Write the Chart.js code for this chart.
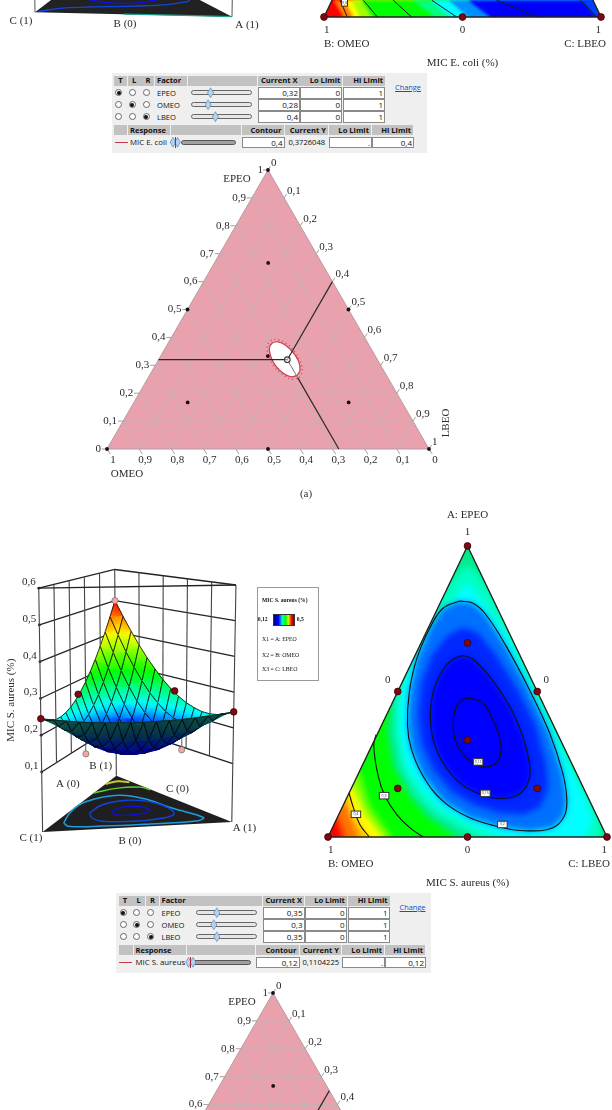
<!DOCTYPE html>
<html>
<head>
<meta charset="utf-8">
<script src="https://cdn.jsdelivr.net/npm/chart.js@4/dist/chart.umd.min.js"></script>
<style>
html, body { margin: 0; padding: 0; background: #fff; overflow: hidden; }
#page { position: relative; width: 612px; height: 1110px; overflow: hidden; background: #fff; filter: blur(.35px); }
#page canvas { position: absolute; }
#page div { position: absolute; box-sizing: border-box; white-space: nowrap; }
</style>
</head>
<body>
<div id="page"></div>
<script>
// ---- data ----
const tickLabels = ['0', '0,1', '0,2', '0,3', '0,4', '0,5', '0,6', '0,7', '0,8', '0,9', '1'];
const tickValues = [0, .1, .2, .3, .4, .5, .6, .7, .8, .9, 1];
const zTicks = [.1, .2, .3, .4, .5, .6];
const zTickLabels = ['0,1', '0,2', '0,3', '0,4', '0,5', '0,6'];
const factors = ['EPEO', 'OMEO', 'LBEO'];

// design points as [EPEO, LBEO]
const designPoints = [[1, 0], [.5, 0], [.5, .5], [.667, .167], [.333, .333], [.167, .167], [.167, .667], [0, 0], [0, .5], [0, 1]];

// E. coli profiler
const ecoliCurrentX = ['0,32', '0,28', '0,4'];
const ecoliCurrent = [.32, .28, .4];
const ecoliResponse = ['MIC E. coli', '0,4', '0,3726048', '.', '0,4'];
const ecoliHole = [[.264, .459], [.283, .458], [.314, .438], [.345, .406], [.372, .369], [.384, .339], [.379, .323], [.360, .324], [.329, .345], [.297, .376], [.271, .413], [.259, .442]];
const ecoliLimit = [[.256, .469], [.278, .467], [.313, .4445], [.348, .409], [.379, .3665], [.393, .3315], [.387, .3135], [.365, .3145], [.330, .338], [.293, .3745], [.264, .417], [.250, .45]];

// S. aureus profiler
const aureusCurrentX = ['0,35', '0,3', '0,35'];
const aureusCurrent = [.35, .3, .35];
const aureusResponse = ['MIC S. aureus', '0,12', '0,1104225', '.', '0,12'];

// S. aureus contours as [position along base, EPEO]
const aureus020 = [[.472, .811], [.520, .803], [.567, .763], [.639, .655], [.722, .506], [.794, .358], [.841, .221], [.856, .129], [.847, .072], [.806, .032], [.722, .021], [.627, .032], [.508, .066], [.412, .123], [.341, .209], [.299, .301], [.285, .381], [.291, .495], [.317, .609], [.365, .718], [.412, .786], [.472, .811]];
const aureus015 = [[.484, .624], [.520, .611], [.579, .552], [.651, .449], [.698, .346], [.722, .255], [.722, .203], [.698, .158], [.651, .135], [.591, .135], [.532, .152], [.472, .186], [.412, .255], [.377, .335], [.367, .426], [.379, .506], [.412, .575], [.448, .611], [.484, .624]];
const aureus012 = [[.508, .478], [.555, .461], [.591, .403], [.617, .335], [.617, .278], [.591, .246], [.544, .243], [.496, .272], [.460, .323], [.448, .381], [.456, .438], [.478, .469], [.508, .478]];
const aureus030 = [[.172, .352], [.164, .312], [.180, .209], [.204, .141], [.246, .078], [.293, .032], [.341, 0]];
const aureus040 = [[.075, .152], [.091, .101], [.114, .043], [.148, 0]];
const aureusLabels = ['0,12', '0,15', '0,2', '0,3', '0,4'];
const aureusLabelAt = [[.538, .258], [.564, .150], [.625, .043], [.201, .142], [.100, .078]];

// S. aureus colour bands, outermost first, as [position along base, EPEO]
const bandRed = [[-.1, -.1], [1.1, -.1], [.5, 1.1]];
const band047 = [[.031, .066], [.055, 0], [.055, -.042], [1.07, -.042], [.65, 1.05], [-.02, 1.05], [0, .08]];
const band043 = [[.061, .118], [.108, 0], [.108, -.042], [1.07, -.042], [.65, 1.05], [0, 1.05], [.02, .13]];
const band040 = [[.075, .146], [.091, .078], [.148, 0], [.148, -.042], [1.07, -.042], [.65, 1.05], [.02, 1.05], [.04, .16]];
const band036 = [[.091, .169], [.132, .083], [.198, 0], [.198, -.042], [1.07, -.042], [.65, 1.05], [.05, 1.05], [.06, .19]];
const band032 = [[.114, .215], [.150, .106], [.228, 0], [.228, -.042], [1.07, -.042], [.65, 1.05], [.05, 1.05], [.09, .24]];
const band026 = [[.174, .518], [.222, .449], [.212, .358], [.234, .243], [.293, .141], [.353, .072], [.460, 0], [.472, -.042], [1.068, -.042], [.651, 1.043], [.148, 1.043]];
const band024 = [[.27, .60], [.33, .70], [.40, .82], [.46, .90], [.5, .935], [.54, .90], [.60, .82], [.67, .69], [.78, .47], [.89, .24], [.95, .12], [.98, .05], [.97, -.03], [.60, -.03], [.49, .02], [.38, .08], [.32, .14], [.26, .24], [.24, .36], [.24, .47]];
const band022 = [[.293, .586], [.35, .665], [.42, .77], [.47, .84], [.5, .875], [.53, .84], [.575, .78], [.645, .689], [.75, .472], [.863, .243], [.925, .129], [.949, .061], [.931, .015], [.889, -.031], [.675, -.019], [.526, .038], [.406, .095], [.347, .152], [.281, .243], [.257, .358], [.257, .472]];
const band017 = [[.478, .718], [.532, .706], [.597, .632], [.681, .506], [.746, .381], [.784, .243], [.788, .163], [.758, .101], [.698, .078], [.615, .083], [.520, .112], [.442, .158], [.377, .232], [.335, .323], [.323, .426], [.335, .529], [.371, .621], [.424, .689]];

// E. coli fragment along the base of the triangle
const ecoliBandBase = [.07, .105, .13, .175, .40, .455, .52, .60, .98];
const ecoliBandUpper = [.035, .075, .10, .135, .32, .385, .45, .52, .93];
const ecoliContourBase = [.084, .1925, .316, .479, .774, .984];
const ecoliContourUpper = [.058, .142, .25, .389, .623, .924];

// S. aureus surface height, one row per OMEO step, one value per EPEO step
const surfaceZ = [
  [.245, .240, .236, .232, .229, .227, .226, .225, .225, .226, .227, .229, .232, .236, .240, .245],
  [.233, .215, .200, .188, .179, .172, .168, .167, .168, .172, .179, .188, .200, .215, .233],
  [.225, .199, .177, .160, .147, .138, .134, .134, .138, .147, .160, .177, .199, .225],
  [.221, .188, .161, .140, .125, .117, .114, .117, .125, .140, .161, .188, .221],
  [.221, .183, .153, .130, .115, .107, .107, .115, .130, .153, .183, .221],
  [.226, .184, .152, .129, .115, .110, .115, .129, .152, .184, .226],
  [.234, .191, .158, .137, .126, .126, .137, .158, .191, .234],
  [.247, .203, .172, .153, .147, .153, .172, .203, .247],
  [.264, .222, .194, .179, .179, .194, .222, .264],
  [.285, .246, .222, .214, .222, .246, .285],
  [.311, .276, .259, .259, .276, .311],
  [.340, .312, .302, .312, .340],
  [.374, .353, .353, .374],
  [.412, .401, .412],
  [.454, .454],
  [.5]
];
// floor contours of the S. aureus surface as [EPEO, OMEO]
const floorLight = [[.052, .153], [.009, .363], [.019, .534], [.154, .626], [.325, .537], [.563, .321], [.805, .116], [.801, .059], [.550, .046], [.292, .052], [.0996, .086], [.052, .153]];
const floorMid = [[.126, .313], [.135, .456], [.246, .522], [.435, .431], [.608, .226], [.580, .145], [.439, .112], [.256, .145], [.177, .217], [.126, .313]];
const floorDeep = [[.238, .321], [.262, .392], [.367, .385], [.451, .301], [.420, .248], [.341, .234], [.276, .268], [.238, .321]];
const floorGreen = [[0, .694], [.101, .762], [.222, .758], [.297, .698]];
const floorYellow = [[0, .855], [.050, .893], [.122, .863]];
// design points on the surface as [EPEO, OMEO, height]
const surfaceDots = [[0, 0, .245], [1, 0, .245], [0, .5, .26], [.5, .5, .26]];
const belowDots = [[.167, .167, .125], [.667, .167, .125]];
const belowTops = [[.167, .167, .18], [.667, .167, .18]];
const peakDot = [0, 1, .5];
// E. coli floor contours as [EPEO, OMEO]
const ecoliFloorOuter = [[.011, .011], [.097, .076], [.443, .141], [.602, .176], [.682, .233], [.685, .263]];
const ecoliFloorInner = [[.192, .226], [.293, .187], [.425, .186], [.523, .25]];
const ecoliFloorEdge = [[.45, .004], [.7, .006], [1, 0]];

// ---- helpers ----
const page = document.getElementById('page');
const Z0 = -.063;
const DARK = '#7b0a14';
const serif = '"Liberation Serif", serif';
const ui = '"Open Sans", sans-serif';

function xy(pts) { return pts.map(p => ({ x: p[0], y: p[1] })); }
function stroke(pts, color, width, extra) {
  return Object.assign({ data: xy(pts), showLine: true, pointRadius: 0, borderColor: color, borderWidth: width, fill: false, clip: false }, extra);
}
function area(pts, color) {
  return { data: xy(pts.concat([pts[0]])), showLine: true, pointRadius: 0, borderWidth: 0, borderColor: color, backgroundColor: color, fill: 'shape' };
}
function dots(pts, color, r, edge, edgeWidth) {
  return { data: xy(pts), showLine: false, pointRadius: r, pointBackgroundColor: color, pointBorderColor: edge || color, pointBorderWidth: edge ? (edgeWidth || .8) : 0, clip: false };
}

const textPlugin = {
  id: 'texts',
  afterDatasetsDraw(chart, args, opts) {
    const ctx = chart.ctx;
    (opts.items || []).forEach(t => {
      const px = chart.scales.x.getPixelForValue(t.x) + (t.dx || 0);
      const py = chart.scales.y.getPixelForValue(t.y) + (t.dy || 0);
      ctx.save();
      ctx.translate(px, py);
      if (t.rot) ctx.rotate(t.rot);
      if (t.box) {
        ctx.fillStyle = '#fff';
        ctx.strokeStyle = '#333';
        ctx.lineWidth = 1;
        ctx.fillRect(-t.box[0] / 2, -t.box[1] / 2, t.box[0], t.box[1]);
        ctx.strokeRect(-t.box[0] / 2, -t.box[1] / 2, t.box[0], t.box[1]);
      }
      ctx.font = (t.size || 11) + 'px ' + (t.family || serif);
      ctx.fillStyle = t.color || '#2a2a2a';
      ctx.textAlign = t.align || 'center';
      ctx.textBaseline = 'middle';
      ctx.fillText(t.text, 0, 0);
      ctx.restore();
    });
  }
};

function makeChart(x, y, w, h, pad, xr, yr, datasets, items, plugins) {
  const cv = document.createElement('canvas');
  cv.width = w; cv.height = h;
  cv.style.left = x + 'px'; cv.style.top = y + 'px';
  page.appendChild(cv);
  datasets.forEach((d, i) => { d.order = -i; });
  return new Chart(cv.getContext('2d'), {
    type: 'scatter',
    data: { datasets },
    plugins: [textPlugin].concat(plugins || []),
    options: {
      responsive: false,
      animation: false,
      events: [],
      devicePixelRatio: 1,
      layout: { padding: pad },
      elements: { line: { tension: 0 } },
      plugins: { legend: { display: false }, tooltip: { enabled: false }, texts: { items: items || [] } },
      scales: {
        x: { type: 'linear', display: false, min: xr[0], max: xr[1] },
        y: { type: 'linear', display: false, min: yr[0], max: yr[1], reverse: yr[0] > 0 || !!yr[2] }
      }
    }
  });
}

function put(x, y, w, h, css, text) {
  const d = document.createElement('div');
  d.style.cssText = `left:${x}px;top:${y}px;width:${w}px;height:${h}px;` + (css || '');
  if (text !== undefined) d.textContent = text;
  page.appendChild(d);
  return d;
}

// ---- heat maps ----
function heatClip(blur, lastBand) {
  return {
    id: 'heatClip',
    beforeDatasetsDraw(chart) {
      const ctx = chart.ctx, sx = chart.scales.x, sy = chart.scales.y;
      ctx.save();
      ctx.beginPath();
      ctx.moveTo(sx.getPixelForValue(0), sy.getPixelForValue(0));
      ctx.lineTo(sx.getPixelForValue(1), sy.getPixelForValue(0));
      ctx.lineTo(sx.getPixelForValue(.5), sy.getPixelForValue(1));
      ctx.closePath();
      ctx.clip();
      ctx.filter = `blur(${blur}px)`;
    },
    afterDatasetDraw(chart, args) {
      if (args.index === lastBand) chart.ctx.restore();
    }
  };
}
const outline = [[0, 0], [1, 0], [.5, 1], [0, 0]];
const heatVertexDots = [[.5, 1], [.25, .5], [.75, .5], [.5, .667], [.5, .333], [.25, .167], [.75, .167], [0, 0], [.5, 0], [1, 0]];

// E. coli fragment, top right
(function () {
  const colors = ['#ff8000', '#ffff00', '#a0ff00', '#00ff00', '#00ff80', '#00ffff', '#0090ff', '#0000ff', '#0040ff'];
  const ds = [area(bandRed, '#ff0000')];
  ecoliBandBase.forEach((f, i) => {
    ds.push(area([[ecoliBandUpper[i], .058], [f, 0], [f, -.03], [1.2, -.03], [1.2, .058]], colors[i]));
  });
  const last = ds.length - 1;
  ecoliContourBase.forEach((f, i) => ds.push(stroke([[ecoliContourUpper[i], .058], [f, 0]], '#1a1a1a', 1)));
  ds.push(stroke(outline, '#222', 1.4));
  ds.push(dots(heatVertexDots, DARK, 3.4, '#400'));
  const m = 60;
  const items = [
    { x: .074, y: .05, text: '0,4', size: 3.5, box: [6, 7], family: ui },
    { x: .01, y: 0, dy: 13.5, text: '1' },
    { x: .5, y: 0, dy: 13.5, text: '0' },
    { x: .99, y: 0, dy: 13.5, text: '1' },
    { x: 0, y: 0, dy: 27.5, text: 'B: OMEO', align: 'left' },
    { x: 1, y: 0, dx: 5, dy: 27.5, text: 'C: LBEO', align: 'right' },
    { x: .5, y: 0, dy: 46, text: 'MIC E. coli (%)' }
  ];
  makeChart(324 - m, 16.7 - 289 - m, 277 + 2 * m, 289 + 2 * m, m, [0, 1], [0, 1], ds, items, [heatClip(1.6, last)]);
})();

// S. aureus heat map
(function () {
  const bands = [[bandRed, '#ff0000'], [band047, '#ff7000'], [band043, '#ffc000'], [band040, '#ffff00'], [band036, '#80ff00'], [band032, '#00ff00'], [band026, '#00ec8c'], [band024, '#00ffc4'], [band022, '#00ffff'], [aureus020, '#0070ff'], [band017, '#0028ff'], [aureus015, '#0000ff']];
  const ds = bands.map(b => area(b[0], b[1]));
  const last = ds.length - 1;
  [aureus020, aureus015, aureus012].forEach(c => ds.push(stroke(c, '#111', 1.1, { tension: .4 })));
  [aureus030, aureus040].forEach(c => ds.push(stroke(c, '#111', 1.1, { tension: .4 })));
  ds.push(stroke(outline, '#222', 1.4));
  ds.push(dots(heatVertexDots, DARK, 3.4, '#400'));
  const items = aureusLabels.map((t, i) => ({ x: aureusLabelAt[i][0], y: aureusLabelAt[i][1], text: t, size: 3.5, box: [9.5, 6.5], family: ui }));
  items.push(
    { x: .5, y: 1, dy: -14, text: '1' },
    { x: .5, y: 1, dy: -31, text: 'A: EPEO' },
    { x: .25, y: .5, dx: -10, dy: -11, text: '0' },
    { x: .75, y: .5, dx: 9, dy: -11, text: '0' },
    { x: .5, y: .333, dx: -7, text: '1', size: 6 },
    { x: .01, y: 0, dy: 13.5, text: '1' },
    { x: .5, y: 0, dy: 13.5, text: '0' },
    { x: .99, y: 0, dy: 13.5, text: '1' },
    { x: 0, y: 0, dy: 27.5, text: 'B: OMEO', align: 'left' },
    { x: 1, y: 0, dx: 3, dy: 27.5, text: 'C: LBEO', align: 'right' },
    { x: .5, y: 0, dy: 46, text: 'MIC S. aureus (%)' }
  );
  const m = 60;
  makeChart(328 - m, 546 - m, 279.7 + 2 * m, 291.7 + 2 * m, m, [0, 1], [0, 1], ds, items, [heatClip(3, last)]);
})();

// ---- pink overlay ternaries ----
function pinkTernary(ax, ay, current, showHole, labels) {
  const W = 322, H = 279, m = 60;
  const T = (a, c) => [c + a / 2, a];
  const ds = [area(outline, '#e8a1ad')];
  tickValues.forEach(v => {
    if (v > 0 && v < 1) {
      ds.push(stroke([T(v, 0), T(v, 1 - v)], '#c6b2b5', 1));       // EPEO
      ds.push(stroke([T(0, v), T(1 - v, v)], '#c6b2b5', 1));       // LBEO
      ds.push(stroke([[1 - v, 0], [(1 - v) / 2, 1 - v]], '#c6b2b5', 1)); // OMEO
    }
    ds.push(stroke([[v / 2, v], [v / 2 - .016, v]], '#a89a9a', 1));
    ds.push(stroke([T(1 - v, v), [v + (1 - v) / 2 + .008, 1 - v + .014]], '#a89a9a', 1));
    ds.push(stroke([[v, 0], [v + .01, -.018]], '#a89a9a', 1));
  });
  ds.push(stroke(outline, '#b49c9e', 1));
  const [a, b, c] = current;
  if (showHole) {
    ds.push(area(ecoliHole.map(p => T(p[0], p[1])), '#ffffff'));
    ds.push(stroke(ecoliHole.concat([ecoliHole[0]]).map(p => T(p[0], p[1])), '#cc3a4e', 1.2, { tension: .4 }));
    ds.push(stroke(ecoliLimit.concat([ecoliLimit[0]]).map(p => T(p[0], p[1])), '#cc3a4e', 1.1, { tension: .4, borderDash: [1, 3] }));
    ds.push(stroke([T(a, c), T(.255, 1 - .28 - .255)], '#777', 1));
    ds.push(stroke([T(.255, 1 - .28 - .255), T(0, 1 - b)], '#2a2a2a', 1.2));
  } else {
    ds.push(stroke([T(a, c), T(0, 1 - b)], '#2a2a2a', 1.2));
  }
  ds.push(stroke([T(a, 0), T(a, c)], '#2a2a2a', 1.2));
  ds.push(stroke([T(a, c), T(1 - c, c)], '#2a2a2a', 1.2));
  ds.push(dots(designPoints.map(p => T(p[0], p[1])), '#111', 1.9));
  if (showHole) ds.push(dots([T(a, c)], 'rgba(255,255,255,.5)', 2.8, '#333', 1.1));
  const items = [];
  tickValues.forEach((v, i) => {
    items.push({ x: v / 2, y: v, dx: v === 1 ? -5 : -6, text: tickLabels[i], align: 'right' });
    items.push({ x: v + (1 - v) / 2, y: 1 - v, dx: 3, dy: -7, text: tickLabels[i], align: 'left' });
    items.push({ x: 1 - v, y: 0, dx: 6, dy: 11, text: tickLabels[i] });
  });
  labels.forEach(l => items.push(l));
  makeChart(ax - W / 2 - m, ay - m, W + 2 * m, H + 2 * m, m, [0, 1], [0, 1], ds, items);
}
pinkTernary(268, 170, ecoliCurrent, true, [
  { x: .5, y: 1, dx: -31, dy: 9, text: 'EPEO' },
  { x: 0, y: 0, dx: 20, dy: 25, text: 'OMEO' },
  { x: 1, y: 0, dx: 17.5, dy: -26, text: 'LBEO', rot: -Math.PI / 2 }
]);
pinkTernary(272.7, 992.7, aureusCurrent, false, [
  { x: .5, y: 1, dx: -31, dy: 9, text: 'EPEO' },
  { x: 0, y: 0, dx: 20, dy: 25, text: 'OMEO' },
  { x: 1, y: 0, dx: 17.5, dy: -26, text: 'LBEO', rot: -Math.PI / 2 }
]);

// ---- 3D views ----
const cornersAureus = { C: [39, 836], A: [234, 825.7], B: [115, 778], Ct: [35, 584.3], At: [238.3, 581], Bt: [113.3, 565] };
const cornersEcoli = { C: [35, 12.3], A: [232, 16.7], B: [111, -46], Ct: [31, -240], At: [236, -240], Bt: [109, -255] };
function project(k, a, b, z) {
  const c = 1 - a - b, t = (z - Z0) / (.6 - Z0);
  const fx = a * k.A[0] + b * k.B[0] + c * k.C[0], fy = a * k.A[1] + b * k.B[1] + c * k.C[1];
  const tx = a * k.At[0] + b * k.Bt[0] + c * k.Ct[0], ty = a * k.At[1] + b * k.Bt[1] + c * k.Ct[1];
  return [fx + t * (tx - fx), fy + t * (ty - fy)];
}
const zStops = [[.11, 0, 0, 255], [.15, 0, 0, 255], [.18, 0, 110, 255], [.215, 0, 255, 255], [.25, 0, 255, 150], [.30, 0, 255, 0], [.405, 255, 255, 0], [.5, 255, 0, 0]];
const zStopsUnder = [[.10, 0, 0, 200], [.13, 0, 0, 150], [.16, 0, 30, 100], [.19, 5, 50, 72], [.24, 15, 85, 65]];
function zColor(z, dark) {
  const stops = dark ? zStopsUnder : zStops;
  let i = 0;
  while (i < stops.length - 2 && z > stops[i + 1][0]) i++;
  const s = stops[i], e = stops[i + 1];
  const t = Math.max(0, Math.min(1, (z - s[0]) / (e[0] - s[0])));
  const ch = n => Math.round(s[n] + (e[n] - s[n]) * t);
  return `rgb(${ch(1)},${ch(2)},${ch(3)})`;
}
function cellPaint(v, dark) {
  return ctx => {
    const sx = ctx.chart.scales.x, sy = ctx.chart.scales.y;
    const sorted = v.slice().sort((p, q) => p.z - q.z);
    const lo = sorted[0], hi = sorted[2];
    const x0 = sx.getPixelForValue(lo.x), y0 = sy.getPixelForValue(lo.y);
    const x1 = sx.getPixelForValue(hi.x), y1 = sy.getPixelForValue(hi.y);
    if (![x0, y0, x1, y1].every(isFinite) || (x0 === x1 && y0 === y1) || hi.z === lo.z) return zColor(lo.z, dark);
    const g = ctx.chart.ctx.createLinearGradient(x0, y0, x1, y1);
    for (let s = 0; s <= 4; s++) g.addColorStop(s / 4, zColor(lo.z + (hi.z - lo.z) * s / 4, dark));
    return g;
  };
}

(function () {
  const k = cornersAureus, n = surfaceZ.length - 1;
  const P = (bi, ai) => {
    const p = project(k, ai / n, bi / n, surfaceZ[bi][ai]);
    return { x: p[0], y: p[1], z: surfaceZ[bi][ai] };
  };
  const ds = [];
  const cage = '#222';
  // cage behind the surface
  zTicks.forEach(z => {
    ds.push(stroke([project(k, 0, 0, z), project(k, 0, 1, z), project(k, 1, 0, z)], cage, 1.3));
    ds.push(dots([project(k, 0, 0, z)], cage, 1.4));
  });
  [.2, .4, .6, .8].forEach(w => {
    ds.push(stroke([project(k, 0, w, .1), project(k, 0, w, .6)], '#444', 1.1));
    ds.push(stroke([project(k, w, 1 - w, .1), project(k, w, 1 - w, .6)], '#444', 1.1));
  });
  ds.push(stroke([project(k, 0, 1, Z0), project(k, 0, 1, .6)], '#444', 1.1));
  ds.push(stroke([project(k, 0, 0, Z0), project(k, 0, 0, .6)], '#444', 1.1));
  ds.push(stroke([project(k, 1, 0, Z0), project(k, 1, 0, .6)], '#444', 1.1));
  ds.push(stroke([project(k, 0, 0, .6), project(k, 1, 0, .6)], cage, 1.3));
  // floor with contours
  const fl = pts => pts.map(p => project(k, p[0], p[1], Z0));
  ds.push(area(fl([[0, 0], [1, 0], [0, 1]]), '#1f1f1f'));
  ds.push(stroke(fl(floorLight), '#1e9fdc', 1.5, { tension: .4 }));
  ds.push(stroke(fl(floorMid), '#1046e0', 1.4, { tension: .4 }));
  ds.push(stroke(fl(floorDeep), '#1010d8', 1.4, { tension: .4 }));
  ds.push(stroke(fl(floorGreen), '#5fd02c', 1.4, { tension: .4 }));
  ds.push(stroke(fl(floorYellow), '#c9c92e', 2, { tension: .4 }));
  // points below the surface
  belowDots.forEach((p, i) => ds.push(stroke([project(k, p[0], p[1], p[2]), project(k, belowTops[i][0], belowTops[i][1], belowTops[i][2])], '#555', 1)));
  ds.push(dots(belowDots.map(p => project(k, p[0], p[1], p[2])), '#f4a6a6', 3.1, '#777'));
  // surface cells from far to near
  const cells = [];
  for (let bi = n - 1; bi >= 0; bi--) {
    const rowLen = n - bi;
    for (let ai = 0; ai < rowLen; ai++) {
      cells.push([P(bi, ai), P(bi, ai + 1), P(bi + 1, ai), 'up']);
      if (ai < rowLen - 1) cells.push([P(bi, ai + 1), P(bi + 1, ai + 1), P(bi + 1, ai), 'down']);
    }
  }
  cells.forEach(cell => {
    const [p0, p1, p2, kind] = cell;
    const cross = (p1.x - p0.x) * (p2.y - p0.y) - (p1.y - p0.y) * (p2.x - p0.x);
    const dark = cross > 0;
    const paint = cellPaint([p0, p1, p2], dark);
    ds.push({
      data: [p0, p1, p2, p0].map(p => ({ x: p.x, y: p.y })), showLine: true, pointRadius: 0, fill: 'shape',
      backgroundColor: paint, borderColor: paint, borderWidth: .7, clip: false
    });
    // only the lines of constant EPEO and constant LBEO are drawn on the surface
    const path = kind === 'up' ? [p0, p2, p1] : [p2, p0, p1];
    ds.push(stroke(path.map(p => [p.x, p.y]), 'rgba(0,0,0,.85)', .9));
  });
  // near edge of the surface
  ds.push(stroke(surfaceZ[0].map((z, i) => project(k, i / n, 0, z)), '#0a2a2a', 1));
  ds.push(dots(surfaceDots.map(p => project(k, p[0], p[1], p[2])), DARK, 3.3, '#400'));
  ds.push(dots([project(k, peakDot[0], peakDot[1], peakDot[2])], '#f4a6a6', 3.1, '#777'));
  const items = zTickLabels.map((t, i) => {
    const p = project(k, 0, 0, zTicks[i]);
    return { x: p[0], y: p[1], dx: -10, dy: -6, text: t };
  });
  items.push(
    { x: 6, y: 700, text: 'MIC S. aureus (%)', rot: -Math.PI / 2 },
    { x: 65, y: 787, text: 'A (0)' },
    { x: 99, y: 768, text: 'B (1)' },
    { x: 178, y: 792, text: 'C (0)' },
    { x: 27, y: 842, text: 'C (1)' },
    { x: 129, y: 845, text: 'B (0)' },
    { x: 247, y: 832, text: 'A (1)' }
  );
  makeChart(0, 555, 320, 305, 0, [0, 320], [555, 860], ds, items);
})();

// E. coli 3D fragment, top left
(function () {
  const k = cornersEcoli;
  const fl = pts => pts.map(p => project(k, p[0], p[1], Z0));
  const ds = [
    area(fl([[0, 0], [1, 0], [0, 1]]), '#222222'),
    stroke(fl(ecoliFloorOuter), '#1046e0', 1.3, { tension: .4 }),
    stroke(fl(ecoliFloorInner), '#1010d8', 1.5, { tension: .4 }),
    stroke(fl(ecoliFloorEdge), '#1f9f88', 1.2),
    stroke([project(k, 0, 0, Z0), project(k, 0, 0, .6)], '#555', 1),
    stroke([project(k, 1, 0, Z0), project(k, 1, 0, .6)], '#555', 1)
  ];
  const items = [
    { x: 21, y: 21, text: 'C (1)' },
    { x: 125, y: 24.5, text: 'B (0)' },
    { x: 247, y: 25.5, text: 'A (1)' }
  ];
  makeChart(0, 0, 300, 40, 0, [0, 300], [.0001, 40], ds, items);
})();

// ---- legend box of the 3D view ----
put(256.5, 586.5, 62, 94, 'background:#fff;border:1px solid #999;');
const legendText = `font:5.8px ${serif};color:#111;`;
put(262, 597, 52, 7, `font:bold 5.6px ${serif};color:#111;`, 'MIC S. aureus (%)');
put(257.7, 616, 12, 7, `font:bold 5.6px ${serif};color:#111;`, '0,12');
put(296.7, 616, 10, 7, `font:bold 5.6px ${serif};color:#111;`, '0,5');
put(272.7, 614, 22.5, 11.7, 'border:1px solid #333;background:linear-gradient(90deg,#00008c,#0000ff 22%,#00ffc0 42%,#00ff00 58%,#c0ff00 72%,#ff0000 88%,#900000);');
put(262, 636, 50, 7, legendText, 'X1 = A: EPEO');
put(262, 651.5, 50, 7, legendText, 'X2 = B: OMEO');
put(262, 666, 50, 7, legendText, 'X3 = C: LBEO');
put(296, 486.5, 20, 13, `font:11px ${serif};color:#333;text-align:center;`, '(a)');

// ---- profiler panels ----
function diamond(cx, cy, w, h) {
  put(cx - w / 2, cy - h / 2, w, h, 'background:#6f93bd;clip-path:polygon(50% 0,100% 50%,50% 100%,0 50%);');
  put(cx - w / 2 + .8, cy - h / 2 + 1.2, w - 1.6, h - 2.4, 'background:#b5d3f0;clip-path:polygon(50% 0,100% 50%,50% 100%,0 50%);');
}
function profiler(o) {
  const dx = o.dx, dy = o.dy;
  const f = `font:500 7.6px/1 ${ui};color:#111;`;
  const fb = `font:bold 7.6px/1 ${ui};color:#111;`;
  put(111.5 + dx, 73 + dy, 315, 80, 'background:#efefef;');
  const head = (x, w, y, h, text, align) => {
    const d = put(x + dx, y + dy, w, h, `background:#c2c2c2;${fb}line-height:${h}px;text-align:${align || 'center'};padding:0 2px;`, text);
    return d;
  };
  head(114, 13, 76, 9.5, 'T');
  head(127.7, 13, 76, 9.5, 'L');
  head(141.4, 13, 76, 9.5, 'R');
  head(155, 32, 76, 9.5, 'Factor', 'left');
  head(187.7, 69.5, 76, 9.5);
  head(258, 41.5, 76, 9.5, 'Current X', 'right');
  head(300.3, 42, 76, 9.5, 'Lo Limit', 'right');
  head(343, 42, 76, 9.5, 'Hi Limit', 'right');
  factors.forEach((name, i) => {
    const cy = 92.7 + 12 * i;
    [118.6, 132.4, 146.3].forEach((rx, j) => {
      put(rx - 3.5 + dx, cy - 3.5 + dy, 7, 7, 'border:1px solid #666;border-radius:50%;background:#fff;');
      if (i === j) put(rx - 2 + dx, cy - 2 + dy, 4, 4, 'background:#111;border-radius:50%;');
    });
    put(157 + dx, cy - 4 + dy, 30, 8, f + 'line-height:8px;', name);
    put(191 + dx, cy - 2.5 + dy, 61, 5, 'border:1px solid #666;border-radius:2.5px;background:#e6e6e6;');
    diamond(191 + o.current[i] * 61 + dx, cy + dy, 7, 11);
    const cells = [[258, o.currentX[i]], [300, '0'], [343, '1']];
    cells.forEach((c, j) => {
      put(c[0] + dx, cy - 5.5 + dy, 42, 11.5, `background:#fff;border:1px solid #8a8a8a;${f}line-height:10px;text-align:right;padding-right:1px;font-size:8px;`, c[1]);
    });
  });
  put(395 + dx, 83 + dy, 28, 9, `font:7.4px/9px ${ui};color:#1a4fc0;text-decoration:underline;`, 'Change');
  // response row
  const r = o.response;
  head(114, o.nameX - 117, 125, 10);
  head(o.nameX - 2, o.respEnd - o.nameX + 2, 125, 10, 'Response', 'left');
  head(o.respEnd + 1, o.cols[0] - o.respEnd - 2, 125, 10);
  const titles = ['Contour', 'Current Y', 'Lo Limit', 'Hi Limit'];
  titles.forEach((t, i) => head(o.cols[i], o.cols[i + 1] - o.cols[i] - 1, 125, 10, t, 'right'));
  put(114.5 + dx, 141.6 + dy, 13, 1.3, 'background:#c43a4a;');
  put(o.nameX + dx, 138 + dy, 50, 9, f + 'line-height:9px;font-size:7.8px;', r[0]);
  put(o.slider[0] + dx, 139.8 + dy, o.slider[1] - o.slider[0], 5, 'border:1px solid #555;border-radius:2.5px;background:#a0a0a0;');
  diamond(o.slider[2] + dx, 142.3 + dy, 6.5, 11);
  diamond(o.slider[2] + 4.5 + dx, 142.3 + dy, 6.5, 11);
  put(o.slider[2] + 1.8 + dx, 137 + dy, 1, 11, 'background:#b0283a;');
  [0, 2, 3].forEach(i => {
    const vi = i === 0 ? 1 : i + 1;
    put(o.cols[i] + dx, 137 + dy, o.cols[i + 1] - o.cols[i], 11, `background:#fff;border:1px solid #8a8a8a;${f}line-height:9px;text-align:right;padding-right:1px;font-size:8px;`, r[vi]);
  });
  put(o.cols[1] + dx, 137 + dy, o.cols[2] - o.cols[1], 11, `${f}line-height:11px;text-align:center;font-size:7.6px;`, r[2]);
}
profiler({
  dx: 0, dy: 0, current: ecoliCurrent, currentX: ecoliCurrentX, response: ecoliResponse,
  nameX: 130, respEnd: 170, cols: [242, 284.5, 329, 372, 414], slider: [181, 236, 173]
});
profiler({
  dx: 4.5, dy: 820, current: aureusCurrent, currentX: aureusCurrentX, response: aureusResponse,
  nameX: 131, respEnd: 181, cols: [251.5, 295, 337.5, 380.5, 421.5], slider: [187, 246.5, 184]
});
</script>
</body>
</html>
